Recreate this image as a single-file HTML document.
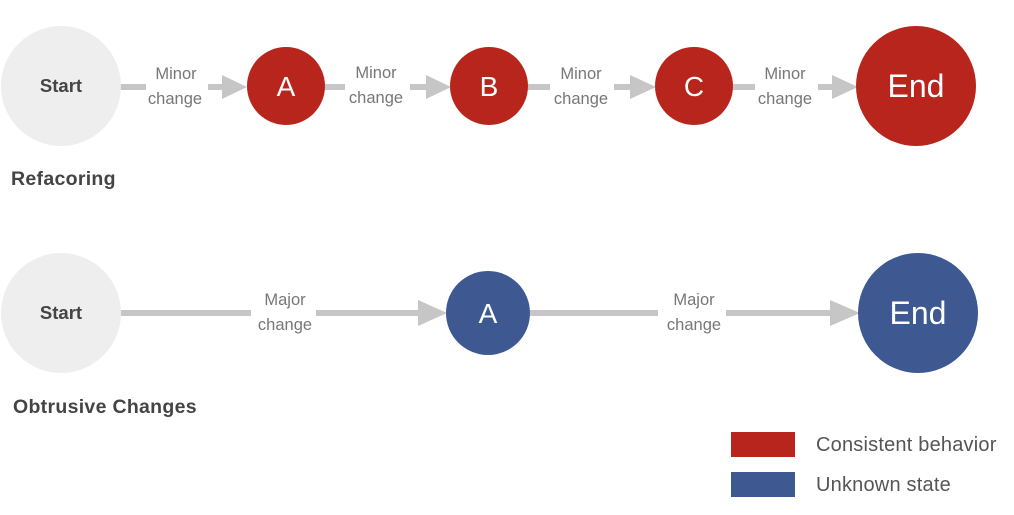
<!DOCTYPE html>
<html><head><style>
body{margin:0;background:#fff;}
svg text{font-family:"Liberation Sans",sans-serif;}
</style></head><body>
<svg width="1014" height="510" viewBox="0 0 1014 510" xmlns="http://www.w3.org/2000/svg">
<g fill="#c6c6c6" stroke="none">
<rect x="120" y="84" width="26" height="6"/><rect x="208" y="84" width="24" height="6"/><polygon points="222,75 247,87 222,99"/>
<rect x="325" y="84" width="20" height="6"/><rect x="410" y="84" width="24" height="6"/><polygon points="426,75 451,87 426,99"/>
<rect x="528" y="84" width="22" height="6"/><rect x="614" y="84" width="24" height="6"/><polygon points="630,75 656,87 630,99"/>
<rect x="733" y="84" width="22" height="6"/><rect x="818" y="84" width="24" height="6"/><polygon points="832,75 858,87 832,99"/>
<rect x="121" y="310" width="130" height="6"/><rect x="316" y="310" width="110" height="6"/><polygon points="418,300 447,313 418,326"/>
<rect x="530" y="310" width="128" height="6"/><rect x="726" y="310" width="112" height="6"/><polygon points="830,300 860,313 830,326"/>
</g>
<g fill="#777" font-size="16.5" text-anchor="middle">
<text x="176" y="79">Minor</text><text x="175" y="104">change</text>
<text x="376" y="78">Minor</text><text x="376" y="103">change</text>
<text x="581" y="79">Minor</text><text x="581" y="104">change</text>
<text x="785" y="79">Minor</text><text x="785" y="104">change</text>
<text x="285" y="305">Major</text><text x="285" y="330">change</text>
<text x="694" y="305">Major</text><text x="694" y="330">change</text>
</g>
<circle cx="61" cy="86" r="60" fill="#eeeeee"/>
<circle cx="61" cy="313" r="60" fill="#eeeeee"/>
<g fill="#b7251d"><circle cx="286" cy="86" r="39"/><circle cx="489" cy="86" r="39"/><circle cx="694" cy="86" r="39"/><circle cx="916" cy="86" r="60"/></g>
<g fill="#3e5892"><circle cx="488" cy="313" r="42"/><circle cx="918" cy="313" r="60"/></g>
<g font-size="18.5" font-weight="bold" fill="#444" text-anchor="middle">
<text x="61" y="92">Start</text><text x="61" y="319">Start</text>
</g>
<g font-size="28" fill="#fff" text-anchor="middle">
<text x="286" y="96">A</text><text x="489" y="96">B</text><text x="694" y="96">C</text><text x="916" y="97" font-size="32">End</text>
<text x="488" y="323">A</text><text x="918" y="324" font-size="32">End</text>
</g>
<g font-size="19.5" font-weight="bold" fill="#444" letter-spacing="0.3">
<text x="11" y="185">Refacoring</text>
<text x="13" y="413">Obtrusive Changes</text>
</g>
<rect x="731" y="432" width="64" height="25" fill="#b7251d"/>
<rect x="731" y="472" width="64" height="25" fill="#3e5892"/>
<g font-size="20" fill="#555" letter-spacing="0.2">
<text x="816" y="451">Consistent behavior</text>
<text x="816" y="491">Unknown state</text>
</g>
</svg>
</body></html>
